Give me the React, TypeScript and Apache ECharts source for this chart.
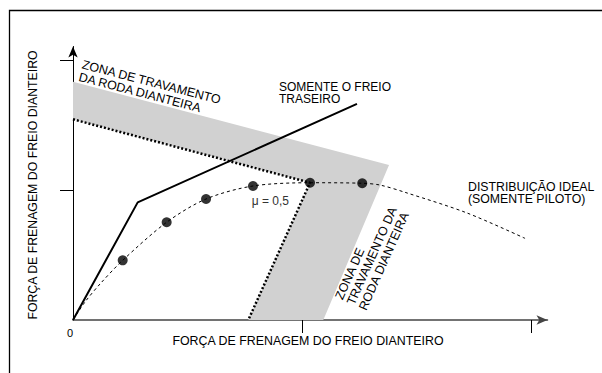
import React, { useEffect, useRef } from 'react';
import * as echarts from 'echarts';

// Data (x: front brake force, y: rear brake force; ticks at 1 and 2)
const rearOnly: number[][] = [[0, 0], [0.2825, 0.905], [1.24, 1.662]];
const idealCurve: number[][] = [
  [0, 0], [0.0524, 0.1385], [0.1179, 0.2769], [0.217, 0.459], [0.409, 0.752],
  [0.581, 0.931], [0.786, 1.031], [1.035, 1.056], [1.262, 1.052], [1.341, 1.038],
  [1.459, 0.977], [1.721, 0.823], [1.974, 0.628],
];
const idealDots: number[][] = [
  [0.217, 0.459], [0.409, 0.752], [0.581, 0.931], [0.786, 1.031], [1.035, 1.056], [1.263, 1.052],
];
const lockBoundary: number[][] = [[0, 1.544], [1.035, 1.056], [0.7655, 0]];
const lockZone: number[][] = [
  [0, 1.833], [1.38, 1.192], [1.093, 0], [0.7655, 0], [1.035, 1.056], [0, 1.544],
];
const xTickValues = [1, 2];
const yTickValues = [1, 2];
const xMax = 2.072;
const yMax = 2.104;

const FONT = "'Liberation Sans', Arial, Helvetica, sans-serif";

function txt(
  text: string, x: number, y: number, fontSize: number,
  opts: { rotation?: number; align?: string; vAlign?: string; lineHeight?: number; fill?: string } = {}
) {
  const align = opts.align || 'left';
  const vAlign = opts.vAlign || 'top';
  return {
    type: 'text',
    x, y,
    rotation: opts.rotation || 0,
    silent: true,
    z: 100,
    style: {
      text,
      fontSize,
      fontFamily: FONT,
      fill: opts.fill || '#000',
      align, textAlign: align,
      verticalAlign: vAlign, textVerticalAlign: vAlign,
      lineHeight: opts.lineHeight || fontSize,
    },
  };
}

export default function App() {
  const ref = useRef<HTMLDivElement>(null);
  useEffect(() => {
    if (!ref.current) return;
    const chart = echarts.init(ref.current, undefined, { renderer: 'svg' });
    const deg = Math.PI / 180;
    chart.setOption({
      animation: false,
      grid: { left: 73, top: 46.5, width: 474.5, height: 273.5, containLabel: false },
      xAxis: {
        type: 'value', min: 0, max: xMax, interval: 1,
        axisLine: { show: true, onZero: false, symbol: ['none', 'arrow'], symbolSize: [7, 11], lineStyle: { color: '#444', width: 1.5 } },
        axisTick: { show: true, customValues: xTickValues, length: 13, lineStyle: { color: '#000', width: 1 } },
        axisLabel: { show: false },
        splitLine: { show: false },
      },
      yAxis: {
        type: 'value', min: 0, max: yMax, interval: 1,
        axisLine: { show: true, onZero: false, symbol: ['none', 'arrow'], symbolSize: [7, 11], lineStyle: { color: '#000', width: 1 } },
        axisTick: { show: true, customValues: yTickValues, length: 13, lineStyle: { color: '#000', width: 1 } },
        axisLabel: { show: false },
        splitLine: { show: false },
      },
      series: [
        {
          type: 'custom',
          data: [[0, 0]],
          silent: true,
          renderItem: (_p: any, api: any) => ({
            type: 'polygon',
            shape: { points: lockZone.map((p) => api.coord(p)) },
            style: { fill: '#d1d1d1', stroke: 'none' },
          }),
        },
        {
          type: 'line', data: lockBoundary, symbol: 'none', silent: true,
          lineStyle: { color: '#000', width: 2.5, type: [2, 2] },
        },
        {
          type: 'line', data: idealCurve, symbol: 'none', smooth: 0.3, silent: true,
          lineStyle: { color: '#000', width: 1, type: [3, 3] },
        },
        {
          type: 'line', data: rearOnly, symbol: 'none', silent: true,
          lineStyle: { color: '#000', width: 2 },
        },
        {
          type: 'scatter', data: idealDots, symbol: 'circle', symbolSize: 10, silent: true,
          itemStyle: { color: '#000' },
        },
      ],
      graphic: [
        {
          type: 'rect', silent: true,
          shape: { x: 9.5, y: 10.5, width: 600, height: 400 },
          style: { fill: 'none', stroke: '#000', lineWidth: 1.3 },
        },
        txt('ZONA DE TRAVAMENTO\nDA RODA DIANTEIRA', 83.8, 58.1, 12.5, { rotation: -14.5 * deg, lineHeight: 13 }),
        txt('ZONA DE\nTRAVAMENTO DA\nRODA DIANTEIRA', 332.8, 296.3, 12.5, { rotation: 66 * deg, lineHeight: 13 }),
        txt('SOMENTE O FREIO\nTRASEIRO', 279, 81.4, 12, { lineHeight: 12 }),
        txt('DISTRIBUIÇÃO IDEAL\n(SOMENTE PILOTO)', 468, 180.7, 12.3, { lineHeight: 12.3 }),
        txt('μ = 0,5', 251.7, 201, 12, { vAlign: 'middle', fill: '#333' }),
        txt('0', 70, 333.4, 11, { align: 'center', vAlign: 'middle' }),
        txt('FORÇA DE FRENAGEM DO FREIO DIANTEIRO', 308, 341.2, 12.4, { align: 'center', vAlign: 'middle' }),
        txt('FORÇA DE FRENAGEM DO FREIO DIANTEIRO', 33, 185, 12.3, { align: 'center', vAlign: 'middle', rotation: 90 * deg }),
      ],
    });
    return () => chart.dispose();
  }, []);
  return (
    <div
      ref={ref}
      style={{ position: 'fixed', left: 0, top: 0, width: 602, height: 373, background: '#fff' }}
    />
  );
}
